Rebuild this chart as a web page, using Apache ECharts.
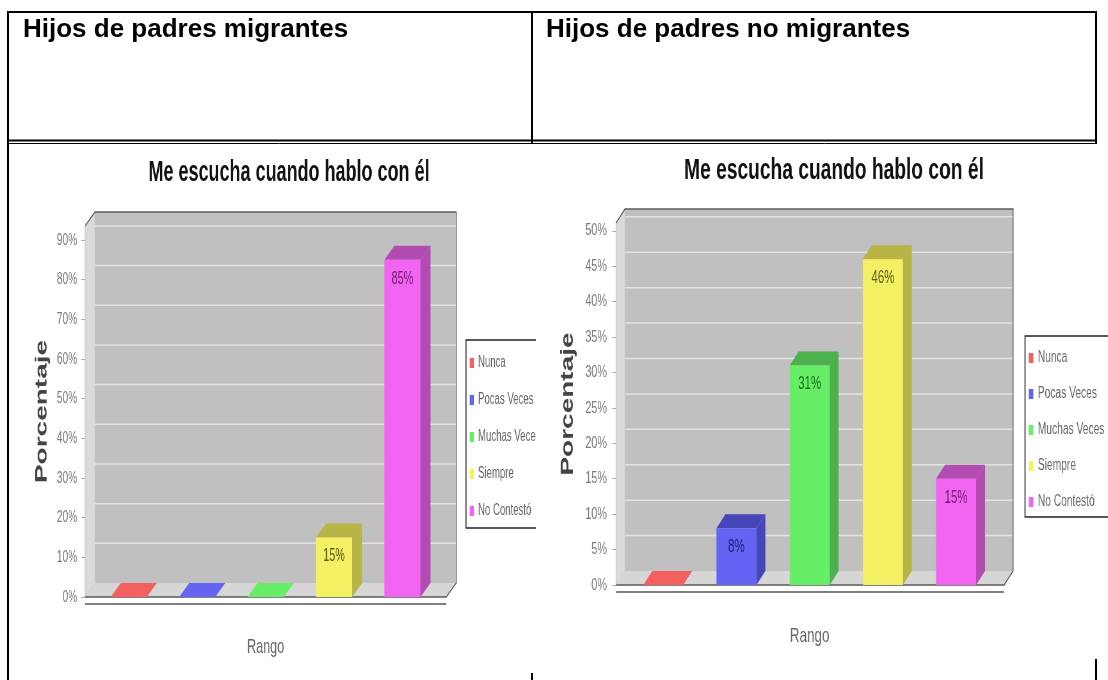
<!DOCTYPE html>
<html><head><meta charset="utf-8">
<script src="https://cdn.jsdelivr.net/npm/echarts@6/dist/echarts.min.js"></script>
<style>
html,body{margin:0;padding:0;background:#fff;width:1108px;height:680px;overflow:hidden;}
#table{position:absolute;left:0;top:0;width:1108px;height:680px;}
.clip{position:absolute;overflow:hidden;background:#fff;}
.inner{position:absolute;left:0;top:0;transform-origin:0 0;}
</style></head><body>
<div id="table"></div>
<div class="clip" style="left:10px;top:144px;width:526px;height:529px"><div class="inner" id="chartL"></div></div>
<div class="clip" style="left:537px;top:144px;width:571px;height:515px"><div class="inner" id="chartR"></div></div>
<script>
// ---- data ----
const categories = ['Nunca', 'Pocas Veces', 'Muchas Veces', 'Siempre', 'No Contestó'];
const migrantValues = [0, 0, 0, 15, 85];
const nonMigrantValues = [0, 8, 31, 46, 15];
const migrantTicks = [0, 10, 20, 30, 40, 50, 60, 70, 80, 90];
const nonMigrantTicks = [0, 5, 10, 15, 20, 25, 30, 35, 40, 45, 50];
const headerLabels = ['Hijos de padres migrantes', 'Hijos de padres no migrantes'];
const chartTitle = 'Me escucha cuando hablo con él';
const yAxisTitle = 'Porcentaje';
const xAxisTitle = 'Rango';

// ---- styles ----
const FONT = '"Liberation Sans", Arial, sans-serif';
const palette = [
  {front: '#f46060', dark: '#c04848', label: '#7a2020'},
  {front: '#6464f4', dark: '#4646b8', label: '#20207a'},
  {front: '#66ee66', dark: '#4cb04c', label: '#1c6a1c'},
  {front: '#f4f064', dark: '#b8b446', label: '#5a5a14'},
  {front: '#f264f2', dark: '#b24cb2', label: '#6e1e6e'}
];

// ---- table (header row + borders) ----
const table = echarts.init(document.getElementById('table'), null, {renderer: 'canvas'});
const ln = (x1, y1, x2, y2, w) => ({type: 'line', silent: true, shape: {x1, y1, x2, y2}, style: {stroke: '#000', lineWidth: w}});
table.setOption({
  animation: false,
  graphic: [
    ln(7, 12, 1097, 12, 2),
    ln(8, 12, 8, 680, 2),
    ln(1096, 12, 1096, 680, 2),
    ln(532, 12, 532, 680, 2),
    ln(7, 140.5, 1097, 140.5, 2),
    ln(7, 143.5, 1097, 143.5, 1),
    {type: 'text', silent: true, style: {text: headerLabels[0], x: 23, y: 17, font: 'bold 26px ' + FONT, fill: '#000', verticalAlign: 'top'}},
    {type: 'text', silent: true, style: {text: headerLabels[1], x: 546, y: 17, font: 'bold 26px ' + FONT, fill: '#000', verticalAlign: 'top'}}
  ]
});

// ---- 3D bar chart builder ----
function makeChart(id, cfg) {
  const el = document.getElementById(id);
  el.style.width = cfg.w + 'px';
  el.style.height = cfg.h + 'px';
  el.style.transform = 'scaleX(' + cfg.s + ')';
  const chart = echarts.init(el, null, {renderer: 'canvas'});
  const dx = cfg.dx, dy = cfg.dy;

  function renderWalls(params, api) {
    const cs = params.coordSys;
    const L = cs.x - cfg.padL, R = cs.x + cs.width + cfg.padR;
    const T = cs.y, B = cs.y + cs.height;
    const kids = [
      {type: 'rect', shape: {x: L + dx, y: T - dy, width: R - L, height: B - T}, style: {fill: '#c0c0c0'}},
      {type: 'polygon', shape: {points: [[L, T], [L + dx, T - dy], [L + dx, B - dy], [L, B]]}, style: {fill: '#dadada', stroke: '#c4c4c4', lineWidth: 1}},
      {type: 'polygon', shape: {points: [[L, B], [L + dx, B - dy], [R + dx, B - dy], [R, B]]}, style: {fill: '#d6d6d6'}}
    ];
    cfg.ticks.forEach(v => {
      if (v === 0) return;
      const y = api.coord([0, v])[1] - dy;
      kids.push({type: 'line', shape: {x1: L + dx, y1: y, x2: R + dx, y2: y}, style: {stroke: '#e2e2e2', lineWidth: 1.5}});
    });
    kids.push({type: 'polyline', shape: {points: [[L, T], [L + dx, T - dy], [R + dx, T - dy], [R + dx, B - dy], [R, B], [L, B]]}, style: {stroke: '#5a5a5a', lineWidth: 1.4, fill: null}});
    kids.push({type: 'line', shape: {x1: L, y1: B + 7, x2: R, y2: B + 7}, style: {stroke: '#555', lineWidth: 1.4}});
    return {type: 'group', children: kids};
  }

  function renderBar(params, api) {
    const i = api.value(0), v = api.value(1);
    const p = palette[i];
    const top = api.coord([i, v]), base = api.coord([i, 0]);
    const w = api.size([1, 0])[0] * cfg.barRatio;
    const xl = top[0] - w / 2, xr = top[0] + w / 2, yt = top[1], yb = base[1];
    const kids = [
      {type: 'polygon', shape: {points: [[xl, yt], [xl + dx, yt - dy], [xr + dx, yt - dy], [xr, yt]]}, style: {fill: v > 0 ? p.dark : p.front}}
    ];
    if (v > 0) {
      kids.push({type: 'polygon', shape: {points: [[xr, yt], [xr + dx, yt - dy], [xr + dx, yb - dy], [xr, yb]]}, style: {fill: p.dark}});
      kids.push({type: 'rect', shape: {x: xl, y: yt, width: w, height: yb - yt}, style: {fill: p.front}});
      kids.push({type: 'text', style: {text: v + '%', x: top[0], y: yt + 19, align: 'center', verticalAlign: 'middle', font: '18px ' + FONT, fill: p.label}});
    }
    return {type: 'group', children: kids};
  }

  const series = [{
    type: 'custom', name: '_walls', silent: true, z: 1,
    data: [[0, 0]], renderItem: renderWalls
  }];
  categories.forEach((c, i) => {
    series.push({
      type: 'custom', name: c, z: 2, silent: true,
      itemStyle: {color: palette[i].front},
      data: [[i, cfg.values[i]]], renderItem: renderBar
    });
  });

  chart.setOption({
    animation: false,
    title: {
      text: chartTitle, left: cfg.titleX, top: cfg.titleY, textAlign: 'center', padding: 0,
      textStyle: {fontSize: 30, fontWeight: 'bold', color: '#111', fontFamily: FONT}
    },
    legend: {
      data: categories, orient: 'vertical', left: cfg.legendX, top: cfg.legendY,
      icon: 'rect', itemWidth: 7, itemHeight: 10, itemGap: cfg.legendGap,
      padding: cfg.legendPad, borderColor: '#222', borderWidth: 1.6, backgroundColor: '#fff',
      selectedMode: false,
      textStyle: {fontSize: 16, color: '#666', fontFamily: FONT, padding: [0, 0, 0, 2]}
    },
    grid: {left: cfg.grid[0], top: cfg.grid[1], width: cfg.grid[2], height: cfg.grid[3]},
    xAxis: {
      type: 'category', data: categories,
      axisLine: {show: false}, axisTick: {show: false}, axisLabel: {show: false}, splitLine: {show: false},
      name: xAxisTitle, nameLocation: 'middle', nameGap: cfg.xNameGap,
      nameTextStyle: {fontSize: 21, color: '#666', fontFamily: FONT}
    },
    yAxis: {
      type: 'value', min: 0, max: cfg.max, interval: cfg.ticks[1] - cfg.ticks[0],
      offset: cfg.padL,
      axisLine: {show: false},
      axisTick: {show: true, length: 6, customValues: cfg.ticks, lineStyle: {color: '#aaa'}},
      axisLabel: {customValues: cfg.ticks, formatter: '{value}%', margin: cfg.labelMargin, fontSize: 17, color: '#7a7a7a', fontFamily: FONT},
      splitLine: {show: false},
      name: yAxisTitle, nameLocation: 'middle', nameGap: cfg.yNameGap,
      nameTextStyle: {fontSize: 28, fontWeight: 'bold', color: '#444', fontFamily: FONT}
    },
    series
  });
  return chart;
}

makeChart('chartL', {
  s: 0.6, w: 878, h: 529, values: migrantValues, ticks: migrantTicks, max: 93.5,
  grid: [141, 82, 570, 371], padL: 16, padR: 16, dx: 16.7, dy: 14, barRatio: 0.527,
  labelMargin: 13, yNameGap: 54, xNameGap: 40,
  titleX: 465, titleY: 14,
  legendX: 760, legendY: 196, legendGap: 21, legendPad: [15, 60, 9, 6]
});

makeChart('chartR', {
  s: 0.64, w: 892, h: 515, values: nonMigrantValues, ticks: nonMigrantTicks, max: 51.1,
  grid: [140, 79, 572, 362], padL: 16.6, padR: 17.8, dx: 14, dy: 14, barRatio: 0.546,
  labelMargin: 14, yNameGap: 61, xNameGap: 40.5,
  titleX: 464, titleY: 12,
  legendX: 762.5, legendY: 192, legendGap: 20, legendPad: [14, 60, 7, 6]
});
</script>
</body></html>
